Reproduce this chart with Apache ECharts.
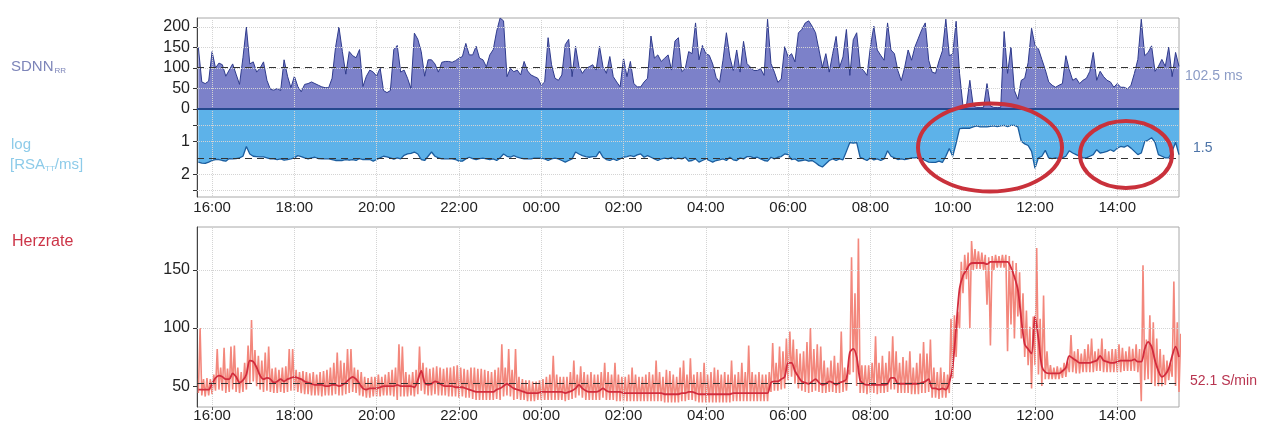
<!DOCTYPE html>
<html><head><meta charset="utf-8">
<script src="https://cdn.jsdelivr.net/npm/echarts@6/dist/echarts.min.js"></script>
<style>html,body{margin:0;padding:0;background:#fff}#c{width:1262px;height:424px}</style>
</head><body><div id="c"></div>
<script>
// ---- time base (minutes since midnight of day 1) ----
const startMin = 940;   // 15:40, first sample
const stepMin = 5;      // one sample every 5 minutes
const xMin = 938, xMax = 2370;
const timeTicks = [960, 1080, 1200, 1320, 1440, 1560, 1680, 1800, 1920, 2040, 2160, 2280];

// ---- tick labels ----
const sdnnTicks = [0, 50, 100, 150, 200];
const rsaLabelTicks = [1, 2];
const rsaTickMarks = [0.5, 1, 2, 2.5];
const hrTicks = [50, 100, 150];

// ---- reference (mean) values ----
const sdnnRef = 102.5;
const rsaRef = 1.5;
const hrRef = 52.1;

// ---- SDNN (ms), 5-min values ----
const sdnn = [
150,66,62,68,140,100,112,108,80,95,
110,85,60,125,200,110,115,90,100,115,
70,48,46,50,45,120,80,52,80,55,
42,60,62,66,62,58,54,52,52,75,
150,200,140,85,140,130,125,145,55,80,
95,90,80,100,45,40,45,145,155,90,
95,75,50,185,170,140,80,120,120,110,
90,114,116,116,114,118,124,128,160,132,
132,153,124,120,103,132,145,190,222,215,
79,99,91,95,83,116,93,83,79,75,
58,66,174,108,75,70,83,157,170,79,
153,103,87,99,103,108,95,153,103,87,
128,79,66,54,124,79,116,62,54,54,
66,75,178,124,132,116,124,132,95,166,
174,91,99,140,135,210,120,155,135,131,
110,77,65,119,186,127,94,144,90,165,
111,102,94,94,98,82,219,111,90,65,
73,152,127,135,115,186,194,210,215,202,
186,144,102,135,90,135,177,102,127,194,
82,169,186,102,94,82,152,202,144,131,
119,210,144,135,94,69,102,144,119,152,
173,194,210,119,90,87,117,142,219,130,
134,214,87,7,7,70,7,4,4,4,
62,7,4,4,4,189,87,151,45,24,
70,75,113,197,155,147,121,96,66,58,
53,58,62,130,96,70,75,62,70,75,
92,138,70,92,79,70,66,53,62,53,
53,49,58,87,121,219,130,138,154,92,
104,121,104,151,79,138,104
];

// ---- log RSA, 5-min values ----
const logRsa = [
1.63,1.66,1.67,1.63,1.58,1.55,1.55,1.58,1.6,1.52,
1.53,1.52,1.5,1.45,1.15,1.38,1.45,1.46,1.47,1.47,
1.5,1.53,1.53,1.55,1.53,1.57,1.55,1.53,1.5,1.43,
1.46,1.5,1.53,1.5,1.48,1.52,1.53,1.53,1.53,1.55,
1.58,1.58,1.58,1.55,1.57,1.55,1.58,1.52,1.55,1.55,
1.55,1.6,1.55,1.5,1.45,1.47,1.5,1.54,1.5,1.53,
1.42,1.38,1.36,1.32,1.38,1.55,1.58,1.45,1.32,1.45,
1.5,1.53,1.53,1.53,1.53,1.55,1.6,1.6,1.53,1.48,
1.52,1.55,1.52,1.51,1.53,1.55,1.53,1.58,1.5,1.38,
1.45,1.48,1.43,1.48,1.51,1.53,1.53,1.53,1.51,1.51,
1.51,1.53,1.58,1.53,1.51,1.53,1.58,1.63,1.58,1.53,
1.32,1.38,1.43,1.46,1.48,1.46,1.46,1.3,1.48,1.55,
1.58,1.53,1.58,1.53,1.48,1.46,1.43,1.46,1.41,1.38,
1.48,1.43,1.48,1.53,1.58,1.53,1.51,1.53,1.48,1.53,
1.51,1.53,1.48,1.6,1.58,1.53,1.63,1.58,1.53,1.58,
1.63,1.58,1.56,1.53,1.58,1.48,1.56,1.58,1.5,1.53,
1.46,1.46,1.5,1.48,1.53,1.58,1.6,1.48,1.53,1.48,
1.46,1.38,1.4,1.55,1.53,1.6,1.58,1.56,1.6,1.58,
1.65,1.73,1.78,1.68,1.58,1.53,1.58,1.53,1.56,1.3,
1.03,1.05,1.03,1.48,1.53,1.58,1.5,1.56,1.53,1.58,
1.53,1.28,1.45,1.5,1.55,1.53,1.55,1.53,1.5,1.5,
1.48,1.53,1.58,1.63,1.64,1.64,1.6,1.64,1.45,1.21,
1.45,1.05,0.6,0.59,0.59,0.59,0.55,0.52,0.55,0.55,
0.55,0.53,0.52,0.54,0.52,0.5,0.54,0.5,0.5,0.55,
0.99,1.07,1.12,1.3,1.82,1.5,1.45,1.27,1.5,1.52,
1.5,1.52,1.5,1.45,1.28,1.35,1.4,1.45,1.5,1.5,
1.45,1.4,1.25,1.35,1.33,1.3,1.25,1.3,1.2,1.15,
1.17,1.12,1.2,1.3,1.4,1.35,1.0,0.95,0.88,1.02,
1.4,1.45,1.5,1.5,1.3,1.02,1.4
];

// ---- heart rate (beats/min), per 5-min slot: lowest, highest, smoothed ----
const hrLow = [
44,42,41,42,43,46,47,46,44,45,
47,45,44,45,47,52,54,50,47,45,
46,45,44,44,45,44,45,46,46,45,
44,43,43,42,42,42,41,42,42,42,
43,42,42,43,44,45,44,42,41,40,
40,41,41,41,42,42,42,41,38,41,
41,41,42,41,43,46,43,42,42,43,
42,42,42,41,41,41,40,41,40,40,
39,38,38,38,38,38,38,39,38,41,
42,41,38,39,38,38,37,37,37,38,
38,38,38,38,38,38,38,37,38,39,
40,42,40,38,38,38,38,38,40,38,
38,38,37,37,37,37,37,37,37,37,
37,37,37,37,37,37,36,36,36,36,
36,37,37,38,38,37,36,36,36,36,
36,36,36,36,36,36,37,37,37,37,
37,37,37,37,37,37,37,45,46,46,
47,48,55,58,52,48,46,45,44,45,
46,45,44,44,45,45,44,44,45,46,
60,62,50,44,44,43,44,44,43,44,
44,45,47,47,44,44,44,44,43,43,
43,44,44,45,40,40,39,40,40,44,
57,75,100,130,142,100,150,151,151,150,
120,85,150,152,152,152,80,103,91,110,
91,75,68,48,68,60,50,56,56,56,
56,56,57,58,62,62,61,61,62,62,
62,62,63,63,62,62,62,62,62,62,
63,63,63,63,62,37,55,56,52,50,
50,50,51,55,58,50,45
];
const hrHigh = [
100,56,57,56,60,82,66,83,65,84,
85,66,62,70,85,107,81,76,72,79,
84,65,66,64,66,67,82,82,64,62,
63,62,61,62,60,62,63,64,66,70,
79,72,70,82,82,66,64,62,58,57,
58,58,60,58,60,62,64,66,86,84,
62,60,62,64,84,70,66,65,66,67,
66,65,66,66,67,68,66,65,64,66,
66,65,65,64,63,62,64,66,86,66,
82,64,82,58,56,55,55,54,54,55,
56,58,60,76,60,58,58,58,62,72,
60,67,62,60,62,60,60,62,70,62,
60,70,60,58,58,60,66,60,58,58,
60,62,60,72,62,58,64,63,60,58,
66,72,60,74,60,62,62,70,60,62,
66,64,60,62,60,72,60,62,70,62,
85,62,60,62,60,60,62,87,70,84,
80,91,97,90,82,78,80,88,100,82,
86,84,72,66,72,76,70,97,66,64,
161,130,177,68,68,68,70,93,70,76,
70,80,93,80,70,75,72,80,66,70,
78,88,78,90,66,62,66,62,60,108,
111,114,157,163,165,175,168,166,165,163,
161,162,163,162,163,163,162,158,156,148,
130,115,101,110,169,108,128,80,68,66,
67,66,70,71,94,80,82,78,82,86,
91,80,82,91,82,80,82,82,86,83,
80,84,82,86,82,154,90,111,105,91,
82,77,72,70,140,105,95
];
const hrMean = [
47,47,47,47,52,57,59,58,56,56,
61,58,53,55,60,72,71,66,59,56,
57,56,53,54,56,54,56,57,58,57,
56,54,53,52,51,51,51,50,50,51,
51,50,51,53,56,58,56,52,48,47,
48,48,48,49,50,50,50,50,51,50,
50,50,50,49,55,63,53,51,52,54,
53,51,50,50,50,49,49,49,48,47,
46,45,45,45,45,45,45,47,48,50,
52,50,48,47,46,45,44,44,44,44,
45,45,45,45,45,45,45,44,45,46,
48,51,48,46,45,45,45,46,48,46,
45,45,45,45,44,44,44,44,44,44,
44,44,44,44,44,44,43,43,43,43,
43,44,44,45,45,44,43,43,43,43,
43,43,43,43,43,43,44,44,44,44,
44,44,44,44,44,44,44,53,54,54,
56,58,70,70,63,58,54,53,52,54,
56,53,51,52,54,53,51,53,54,56,
79,82,75,55,52,51,51,51,51,51,
51,52,57,57,52,52,52,52,52,52,
52,53,54,56,48,48,47,48,47,53,
67,100,134,145,150,155,156,156,156,156,
155,157,157,157,157,157,157,152,144,133,
108,86,82,78,110,91,67,62,61,61,
61,61,63,66,76,74,72,70,70,70,
70,71,72,76,72,71,70,70,71,72,
72,72,72,73,71,71,82,88,84,72,
63,58,60,65,76,84,75
];

// ---- build series data through the axes ----
const tAt = i => startMin + i * stepMin;
const sdnnPts = sdnn.map((v, i) => [tAt(i), v]);
const rsaPts = logRsa.map((v, i) => [tAt(i), v]);
const hrMeanPts = hrMean.map((v, i) => [tAt(i), v]);
const hrRawPts = [];
hrLow.forEach((v, i) => { hrRawPts.push([tAt(i), v]); hrRawPts.push([tAt(i) + stepMin / 2, hrHigh[i]]); });

const FONT = "'Liberation Sans', Arial, sans-serif";
const pad = n => (n < 10 ? '0' : '') + n;
const fmtTime = v => pad(Math.floor(v / 60) % 24) + ':' + pad(Math.round(v % 60));
const gridStyle = { color: '#d4d4d4', type: 'dotted', width: 1 };
function gridMarks(yVals) {
  return {
    silent: true, symbol: ['none', 'none'], label: { show: false }, animation: false,
    data: timeTicks.map(v => ({ xAxis: v, lineStyle: gridStyle }))
      .concat(yVals.map(v => ({ yAxis: v, lineStyle: gridStyle })))
  };
}
function refMark(items) {
  return { silent: true, symbol: ['none', 'none'], label: { show: false }, animation: false, data: items };
}
const dashStyle = { color: '#333333', type: [7, 5], width: 1 };

function xAxisCfg(gridIndex, showLabels, margin) {
  return {
    type: 'value', gridIndex, min: xMin, max: xMax,
    axisLine: { show: false }, splitLine: { show: false },
    axisTick: { show: showLabels, length: 3, lineStyle: { color: '#555' }, customValues: timeTicks },
    axisLabel: { show: showLabels, margin, fontSize: 15, color: '#222', fontFamily: FONT,
      customValues: timeTicks, formatter: fmtTime }
  };
}
function yAxisCfg(gridIndex, min, max, labels, ticks, extra) {
  return Object.assign({
    type: 'value', gridIndex, min, max,
    axisLine: { show: true, lineStyle: { color: '#444', width: 1 } },
    splitLine: { show: false },
    axisTick: { show: true, length: 4, lineStyle: { color: '#333' }, customValues: ticks },
    axisLabel: { margin: 7, fontSize: 16, color: '#222', fontFamily: FONT, customValues: labels }
  }, extra || {});
}

const chart = echarts.init(document.getElementById('c'), null, { renderer: 'canvas' });
chart.setOption({
  animation: false,
  backgroundColor: '#ffffff',
  grid: [
    { left: 197, right: 83, top: 18, height: 91, show: true, borderColor: '#a8a8a8', borderWidth: 1 },
    { left: 197, right: 83, top: 109, height: 88, show: true, borderColor: '#a8a8a8', borderWidth: 1 },
    { left: 197, right: 83, top: 227, height: 180, show: true, borderColor: '#a8a8a8', borderWidth: 1 }
  ],
  xAxis: [xAxisCfg(0, false, 0), xAxisCfg(1, true, 3), xAxisCfg(2, true, 1)],
  yAxis: [
    yAxisCfg(0, 0, 222, sdnnTicks, sdnnTicks),
    yAxisCfg(1, 0, 2.7, rsaLabelTicks, rsaTickMarks, { inverse: true }),
    yAxisCfg(2, 32, 187, hrTicks, hrTicks)
  ],
  series: [
    { type: 'line', xAxisIndex: 0, yAxisIndex: 0, data: sdnnPts, z: 1, silent: true,
      showSymbol: false, lineStyle: { opacity: 0 }, markLine: gridMarks([50, 100, 150, 200]) },
    { type: 'line', xAxisIndex: 0, yAxisIndex: 0, data: sdnnPts, z: 2, silent: true,
      showSymbol: false, symbol: 'none',
      lineStyle: { color: '#2f3b8c', width: 1 },
      areaStyle: { color: '#7c81c9', opacity: 1 },
      markLine: refMark([{ yAxis: sdnnRef, lineStyle: dashStyle }]) },

    { type: 'line', xAxisIndex: 1, yAxisIndex: 1, data: rsaPts, z: 1, silent: true,
      showSymbol: false, lineStyle: { opacity: 0 }, markLine: gridMarks([0.5, 1, 2, 2.5]) },
    { type: 'line', xAxisIndex: 1, yAxisIndex: 1, data: rsaPts, z: 2, silent: true,
      showSymbol: false, symbol: 'none',
      lineStyle: { color: '#1b5d9e', width: 1.3 },
      areaStyle: { color: '#5db2e9', opacity: 1 },
      markLine: refMark([
        { yAxis: rsaRef, lineStyle: dashStyle },
        { yAxis: 0, lineStyle: { color: '#25488e', width: 2, type: 'solid' } }
      ]) },

    { type: 'line', xAxisIndex: 2, yAxisIndex: 2, data: hrMeanPts, z: 1, silent: true,
      showSymbol: false, lineStyle: { opacity: 0 }, markLine: gridMarks([100, 150]) },
    { type: 'line', xAxisIndex: 2, yAxisIndex: 2, data: hrRawPts, z: 2, silent: true,
      showSymbol: false, symbol: 'none',
      lineStyle: { color: '#f3877c', width: 1.6 } },
    { type: 'line', xAxisIndex: 2, yAxisIndex: 2, data: hrMeanPts, z: 3, silent: true,
      showSymbol: false, symbol: 'none', smooth: 0.3,
      lineStyle: { color: '#d22c3d', width: 1.8 },
      markLine: refMark([{ yAxis: hrRef, lineStyle: dashStyle }]) }
  ],
  graphic: [
    { type: 'text', x: 11, y: 67, style: { text: '{a|SDNN}{b|RR}', verticalAlign: 'middle',
      rich: { a: { fontSize: 15, fontFamily: FONT, fill: '#7d85b9' },
              b: { fontSize: 8, fontFamily: FONT, fill: '#7d85b9', verticalAlign: 'bottom', padding: [6, 0, 0, 1] } } } },
    { type: 'text', x: 11, y: 145, style: { text: 'log', verticalAlign: 'middle', fontSize: 15, fontFamily: FONT, fill: '#8dcbe9' } },
    { type: 'text', x: 10, y: 165, style: { text: '{a|[RSA}{b|TT}{a|/ms]}', verticalAlign: 'middle',
      rich: { a: { fontSize: 15, fontFamily: FONT, fill: '#8dcbe9' },
              b: { fontSize: 8, fontFamily: FONT, fill: '#8dcbe9', verticalAlign: 'bottom', padding: [6, 0, 0, 0] } } } },
    { type: 'text', x: 12, y: 242, style: { text: 'Herzrate', verticalAlign: 'middle', fontSize: 16, fontFamily: FONT, fill: '#cc3447' } },
    { type: 'text', x: 1185, y: 76, style: { text: sdnnRef + ' ms', verticalAlign: 'middle', fontSize: 14, fontFamily: FONT, fill: '#8c9cc6' } },
    { type: 'text', x: 1193, y: 148, style: { text: String(rsaRef), verticalAlign: 'middle', fontSize: 14, fontFamily: FONT, fill: '#4d74a8' } },
    { type: 'text', x: 1190, y: 381, style: { text: hrRef + ' S/min', verticalAlign: 'middle', fontSize: 14, fontFamily: FONT, fill: '#b8344f' } },
    { type: 'ellipse', z: 100, shape: { cx: 990, cy: 147.5, rx: 72, ry: 44 },
      style: { fill: 'none', stroke: '#c9313b', lineWidth: 4 } },
    { type: 'ellipse', z: 100, shape: { cx: 1126, cy: 154.5, rx: 46, ry: 33.5 },
      style: { fill: 'none', stroke: '#c9313b', lineWidth: 4 } }
  ]
});
</script>
</body></html>
